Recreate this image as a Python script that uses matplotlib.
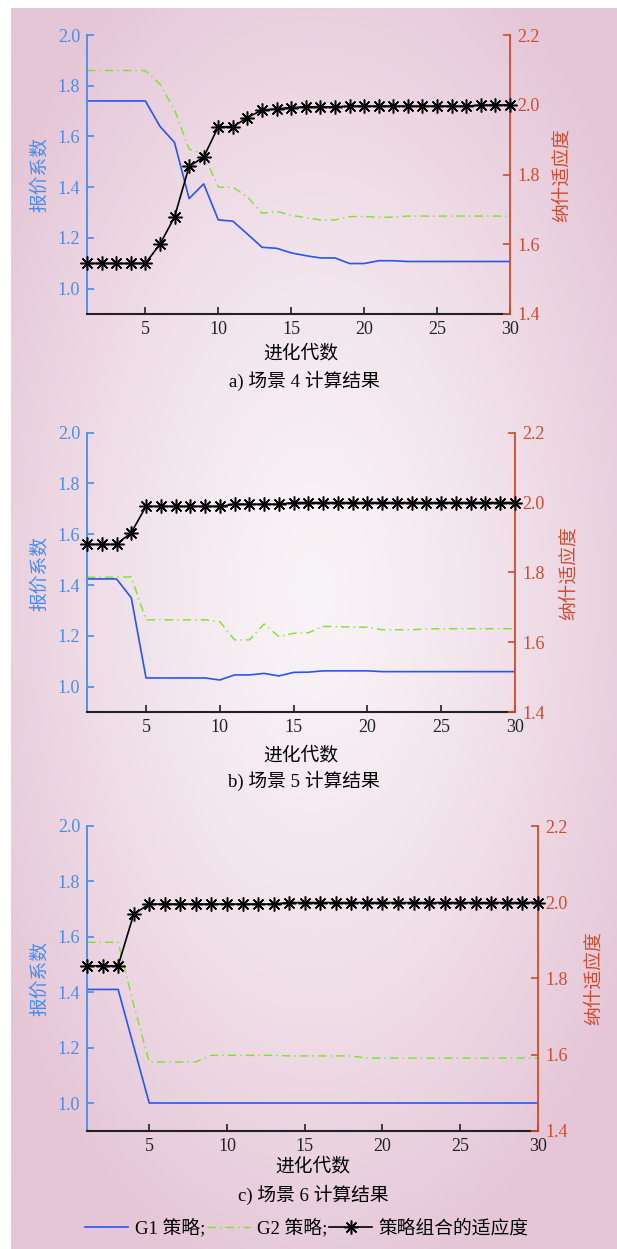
import numpy as np
import matplotlib
matplotlib.use('Agg')
import matplotlib.pyplot as plt
from matplotlib.lines import Line2D

plt.rcParams['font.family'] = ['Liberation Serif', 'Noto Sans CJK SC']

# ---------------- data ----------------
gens = list(range(1, 31))

a_g1 = [1.74, 1.74, 1.74, 1.74, 1.74, 1.64, 1.576, 1.355, 1.413, 1.271,
        1.266, 1.215, 1.163, 1.159, 1.141, 1.130, 1.121, 1.121, 1.099, 1.099,
        1.110, 1.110, 1.107, 1.107, 1.107, 1.107, 1.107, 1.107, 1.107, 1.107]
a_g2 = [1.86, 1.86, 1.86, 1.86, 1.86, 1.806, 1.705, 1.55, 1.53, 1.40,
        1.40, 1.362, 1.297, 1.305, 1.289, 1.280, 1.271, 1.271, 1.284, 1.285,
        1.281, 1.282, 1.286, 1.286, 1.286, 1.286, 1.286, 1.286, 1.286, 1.286]
a_fit = [1.545, 1.545, 1.545, 1.545, 1.545, 1.60, 1.678, 1.823, 1.85, 1.937,
         1.937, 1.963, 1.985, 1.988, 1.992, 1.994, 1.994, 1.994, 1.996, 1.996,
         1.996, 1.996, 1.996, 1.996, 1.996, 1.996, 1.996, 1.999, 1.999, 1.999]

b_g1 = [1.424, 1.424, 1.424, 1.350, 1.034, 1.034, 1.034, 1.034, 1.034, 1.026,
        1.046, 1.046, 1.052, 1.042, 1.056, 1.057, 1.062, 1.062, 1.062, 1.062,
        1.059, 1.059, 1.059, 1.059, 1.059, 1.059, 1.059, 1.059, 1.059, 1.059]
b_g2 = [1.431, 1.431, 1.431, 1.432, 1.263, 1.263, 1.263, 1.263, 1.263, 1.256,
        1.184, 1.184, 1.247, 1.197, 1.210, 1.212, 1.237, 1.236, 1.235, 1.234,
        1.224, 1.224, 1.224, 1.227, 1.228, 1.228, 1.228, 1.228, 1.228, 1.228]
b_fit = [1.88, 1.88, 1.88, 1.914, 1.989, 1.989, 1.989, 1.989, 1.989, 1.989,
         1.995, 1.995, 1.995, 1.995, 2.0, 2.0, 2.0, 2.0, 2.0, 2.0,
         2.0, 2.0, 2.0, 2.0, 2.0, 2.0, 2.0, 2.0, 2.0, 2.0]

c_g1 = [1.41, 1.41, 1.41, 1.205, 1.0, 1.0, 1.0, 1.0, 1.0, 1.0,
        1.0, 1.0, 1.0, 1.0, 1.0, 1.0, 1.0, 1.0, 1.0, 1.0,
        1.0, 1.0, 1.0, 1.0, 1.0, 1.0, 1.0, 1.0, 1.0, 1.0]
c_g2 = [1.58, 1.58, 1.58, 1.355, 1.148, 1.148, 1.148, 1.148, 1.172, 1.172,
        1.172, 1.172, 1.172, 1.170, 1.170, 1.170, 1.170, 1.170, 1.162, 1.162,
        1.162, 1.162, 1.162, 1.162, 1.162, 1.162, 1.162, 1.162, 1.162, 1.162]
c_fit = [1.833, 1.833, 1.833, 1.968, 1.995, 1.995, 1.995, 1.995, 1.995, 1.995,
         1.995, 1.995, 1.995, 1.999, 1.999, 1.999, 1.999, 1.999, 1.999, 1.999,
         1.999, 1.999, 1.999, 1.999, 1.999, 1.999, 1.999, 1.999, 1.999, 1.999]

x_ticks = [5, 10, 15, 20, 25, 30]
left_ticks = [1.0, 1.2, 1.4, 1.6, 1.8, 2.0]
right_ticks = [1.4, 1.6, 1.8, 2.0, 2.2]

captions = ['a) 场景 4 计算结果', 'b) 场景 5 计算结果', 'c) 场景 6 计算结果']
xlabel = '进化代数'
ylabel_left = '报价系数'
ylabel_right = '纳什适应度'
legend_labels = ['G1 策略;', 'G2 策略;', '策略组合的适应度']

# ---------------- style ----------------
BLUE = '#2855F5'
LBLUE = '#468CF0'
GREEN = '#7EE12C'
RED = '#D24A2C'
FS = 13
FS_T = 13.5

W, H = 617, 1249
fig = plt.figure(figsize=(W / 100, H / 100), dpi=100)
fig.patch.set_facecolor('white')

# background gradient
bg = fig.add_axes([11 / W, 0, 1 - 11 / W, 1 - 8 / H], zorder=-10)
ny, nx = 400, 200
yy, xx = np.mgrid[0:1:ny * 1j, 0:1:nx * 1j]
d = np.sqrt(((xx - 0.5) / 0.62) ** 2 + ((yy - 0.47) / 0.58) ** 2)
t = np.clip(d, 0, 1) ** 1.3
edge = np.array([229, 198, 215]) / 255
center = np.array([249, 244, 247]) / 255
img = center + (edge - center) * t[..., None]
bg.imshow(img, aspect='auto', extent=[0, 1, 0, 1], origin='upper', interpolation='bilinear')
bg.axis('off')


def fx(px):
    return px / W


def fy(py):
    return 1 - py / H


def panel(left, right, top, bottom, g1, g2, fit, cap, xl_pos, cap_pos, ll_pos, rl_pos):
    ax = fig.add_axes([fx(left), fy(bottom), (right - left) / W, (bottom - top) / H])
    ax.set_facecolor('none')
    ax.plot(gens, g1, color=BLUE, lw=1.2)
    ax.plot(gens, g2, color=GREEN, lw=1.0, ls=(0, (6, 3, 1, 3)))
    ax.set_xlim(1, 30)
    ax.set_ylim(0.9, 2.0)
    ax.set_xticks(x_ticks)
    ax.set_yticks(left_ticks)
    ax.set_yticklabels([f'{v:.1f}' for v in left_ticks])
    for s in ['top', 'right']:
        ax.spines[s].set_visible(False)
    ax.spines['left'].set_color(LBLUE)
    ax.spines['left'].set_linewidth(1.3)
    ax.spines['bottom'].set_color('#222222')
    ax.spines['bottom'].set_linewidth(1.5)
    ax.tick_params(axis='y', direction='in', length=5, width=1.2, colors=LBLUE, labelsize=FS, pad=5)
    ax.tick_params(axis='x', direction='in', length=5, width=1.2, colors='#222222', labelsize=FS, pad=5)

    ax2 = ax.twinx()
    ax2.plot(gens, fit, color='black', lw=1.2, marker=(8, 2, 0), ms=10, mew=1.1, clip_on=False, zorder=5)
    ax2.set_ylim(1.4, 2.2)
    ax2.set_yticks(right_ticks)
    ax2.set_yticklabels([f'{v:.1f}' for v in right_ticks])
    for s in ['top', 'left', 'bottom']:
        ax2.spines[s].set_visible(False)
    ax2.spines['right'].set_color(RED)
    ax2.spines['right'].set_linewidth(1.3)
    ax2.tick_params(axis='y', direction='in', length=5, width=1.2, colors=RED, labelsize=FS, pad=5)

    fig.text(fx(xl_pos[0]), fy(xl_pos[1]), xlabel, ha='center', va='center', fontsize=FS_T)
    fig.text(fx(cap_pos[0]), fy(cap_pos[1]), cap, ha='center', va='center', fontsize=FS_T)
    fig.text(fx(ll_pos[0]), fy(ll_pos[1]), ylabel_left, ha='center', va='center', rotation=90,
             fontsize=FS_T, color=LBLUE)
    fig.text(fx(rl_pos[0]), fy(rl_pos[1]), ylabel_right, ha='center', va='center', rotation=90,
             fontsize=FS_T, color=RED)
    return ax, ax2


panel(87, 510, 35, 314, a_g1, a_g2, a_fit, captions[0], (301, 354), (304, 381), (40, 175), (562, 175))
panel(87, 515, 432.7, 712, b_g1, b_g2, b_fit, captions[1], (301, 756), (304, 781), (40, 573), (569, 573))
panel(87, 538, 826, 1130.7, c_g1, c_g2, c_fit, captions[2], (313, 1167), (313, 1195), (40, 978), (594, 978))

handles = [
    Line2D([], [], color=BLUE, lw=1.2),
    Line2D([], [], color=GREEN, lw=1.0, ls=(0, (6, 3, 1, 3))),
    Line2D([], [], color='black', lw=1.2, marker=(8, 2, 0), ms=10, mew=1.1),
]
fig.legend(handles, legend_labels, loc='center', bbox_to_anchor=(fx(307), fy(1228)), ncol=3,
           frameon=False, fontsize=FS_T, handlelength=2.3, handletextpad=0.35, columnspacing=0.1,
           borderpad=0, numpoints=1)

fig.savefig('out.png', dpi=100)
